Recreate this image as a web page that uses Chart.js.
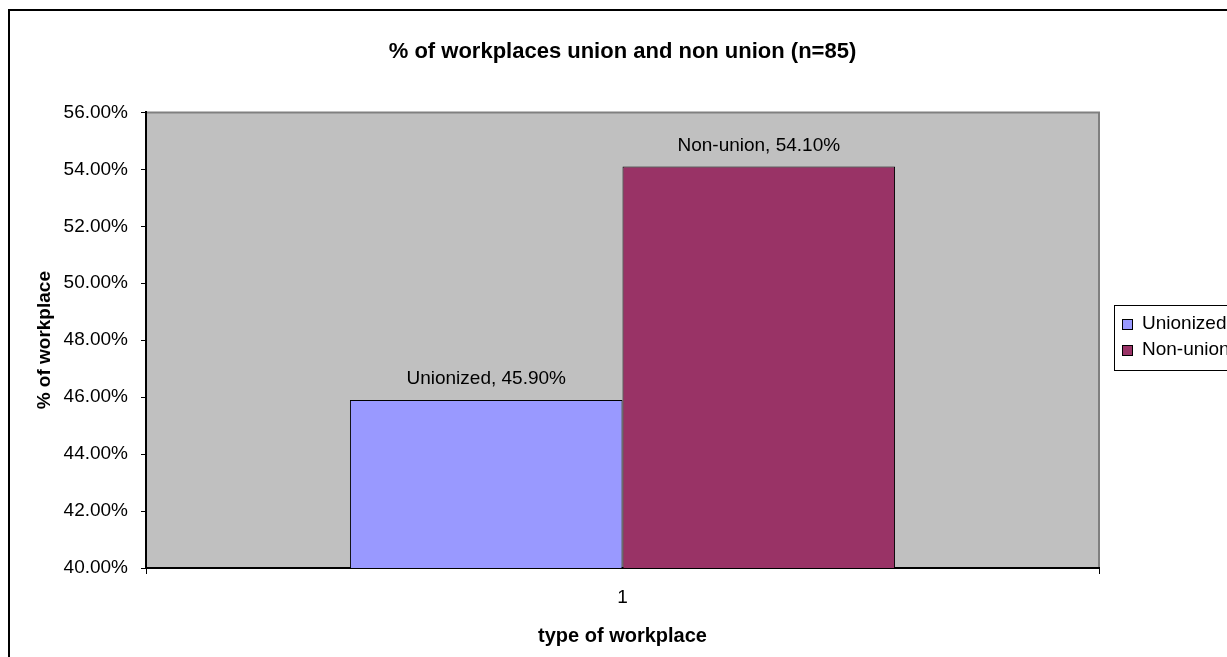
<!DOCTYPE html>
<html>
<head>
<meta charset="utf-8">
<title>% of workplaces union and non union</title>
<script src="https://cdn.jsdelivr.net/npm/chart.js@4"></script>
<style>
  html, body { margin: 0; padding: 0; background: #fff; }
  #wrap { width: 1227px; height: 657px; }
</style>
</head>
<body>
<div id="wrap"><canvas id="chart" width="1227" height="657"></canvas></div>
<script>
// ---------- Data ----------
const categories = ['1'];
const seriesNames = ['Unionized', 'Non-union'];
const unionized = [45.9];
const nonUnion = [54.1];
const seriesColors = ['#9999FF', '#993366'];
const yMin = 40, yMax = 56, yStep = 2;

const FONT = "Arial, 'Liberation Sans', sans-serif";
Chart.defaults.font.family = FONT;
Chart.defaults.color = '#000';

// grey plot area + outer frame, painted before the axes
const plotBackground = {
  id: 'plotBackground',
  beforeDraw(chart) {
    const { ctx, chartArea: a } = chart;
    ctx.save();
    ctx.fillStyle = '#fff';
    ctx.fillRect(0, 0, chart.width, chart.height);
    // outer frame (only left and top edges are inside the canvas)
    ctx.strokeStyle = '#000';
    ctx.lineWidth = 2;
    ctx.beginPath();
    ctx.moveTo(9, chart.height + 5);
    ctx.lineTo(9, 10);
    ctx.lineTo(chart.width + 5, 10);
    ctx.stroke();
    // plot area
    ctx.fillStyle = '#C0C0C0';
    ctx.fillRect(a.left, a.top, a.right - a.left, a.bottom - a.top);
    ctx.strokeStyle = '#808080';
    ctx.lineWidth = 2;
    ctx.beginPath();
    ctx.moveTo(a.left, a.top);
    ctx.lineTo(a.right, a.top);
    ctx.lineTo(a.right, a.bottom);
    ctx.stroke();
    ctx.restore();
  }
};

// "Name, value%" above each bar
const barLabels = {
  id: 'barLabels',
  afterDatasetsDraw(chart) {
    const { ctx } = chart;
    ctx.save();
    ctx.font = '19px ' + FONT;
    ctx.fillStyle = '#000';
    ctx.textAlign = 'center';
    ctx.textBaseline = 'middle';
    chart.data.datasets.forEach((ds, i) => {
      chart.getDatasetMeta(i).data.forEach((bar, j) => {
        ctx.fillText(ds.label + ', ' + ds.data[j].toFixed(2) + '%', bar.x, bar.y - 21);
      });
    });
    ctx.restore();
  }
};

// boxed legend at the right edge
const boxLegend = {
  id: 'boxLegend',
  afterDraw(chart) {
    const { ctx } = chart;
    const x = 1114, y = 305, h = 65, rowH = 26;
    ctx.save();
    ctx.fillStyle = '#fff';
    ctx.fillRect(x, y, chart.width - x + 5, h);
    ctx.strokeStyle = '#000';
    ctx.lineWidth = 1;
    ctx.strokeRect(x + 0.5, y + 0.5, chart.width - x + 5, h);
    ctx.font = '19px ' + FONT;
    ctx.textBaseline = 'middle';
    chart.data.datasets.forEach((ds, i) => {
      const cy = y + 19 + i * rowH;
      ctx.fillStyle = ds.backgroundColor;
      ctx.fillRect(x + 8, cy - 5, 10, 10);
      ctx.strokeStyle = '#000';
      ctx.strokeRect(x + 8.5, cy - 4.5, 10, 10);
      ctx.fillStyle = '#000';
      ctx.fillText(ds.label, x + 28, cy);
    });
    ctx.restore();
  }
};

new Chart(document.getElementById('chart'), {
  type: 'bar',
  data: {
    labels: categories,
    datasets: [
      { label: seriesNames[0], data: unionized, backgroundColor: seriesColors[0] },
      { label: seriesNames[1], data: nonUnion, backgroundColor: seriesColors[1] }
    ]
  },
  options: {
    responsive: false,
    animation: false,
    layout: { padding: { left: 0, right: 128, top: 0, bottom: 0 } },
    datasets: {
      bar: {
        categoryPercentage: 0.572,
        barPercentage: 1,
        borderColor: '#000',
        borderWidth: 1
      }
    },
    plugins: {
      legend: { display: false },
      tooltip: { enabled: false },
      title: {
        display: true,
        fullSize: false,
        text: '% of workplaces union and non union (n=85)',
        font: { size: 22, weight: 'bold' },
        color: '#000',
        padding: { top: 39, bottom: 47 }
      }
    },
    scales: {
      x: {
        grid: { drawOnChartArea: false, tickLength: 6, tickColor: '#000', tickWidth: 1 },
        border: { color: '#000', width: 2 },
        ticks: { font: { size: 19 }, color: '#000', padding: 12 },
        title: {
          display: true,
          text: 'type of workplace',
          font: { size: 20, weight: 'bold' },
          color: '#000',
          padding: { top: 0, bottom: 9 }
        },
        afterFit(scale) { scale.height = 89; }
      },
      y: {
        min: yMin,
        max: yMax,
        grid: { drawOnChartArea: false, tickLength: 5, tickColor: '#000', tickWidth: 1 },
        border: { color: '#000', width: 2 },
        ticks: {
          stepSize: yStep,
          font: { size: 19 },
          color: '#000',
          padding: 13,
          callback: v => v.toFixed(2) + '%'
        },
        title: {
          display: true,
          text: '% of workplace',
          font: { size: 19, weight: 'bold' },
          color: '#000',
          padding: { top: 33, bottom: 0 }
        },
        afterFit(scale) { scale.width = 146; }
      }
    }
  },
  plugins: [plotBackground, barLabels, boxLegend]
});
</script>
</body>
</html>
